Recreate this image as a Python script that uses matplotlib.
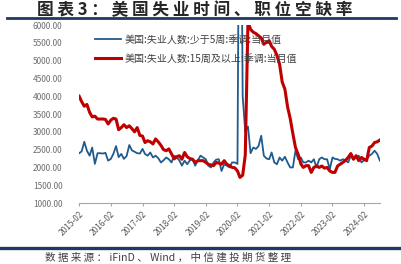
import matplotlib
matplotlib.use('Agg')
import matplotlib.pyplot as plt
import matplotlib.dates as mdates
import pandas as pd

plt.rcParams['font.family'] = ['Noto Sans CJK SC', 'DejaVu Sans']

# monthly, 2015-02 .. 2024-08 (thousands of persons)
months = pd.date_range('2015-02-01', '2024-08-01', freq='MS')

short_term = [  # less than 5 weeks
    2400, 2450, 2720, 2470, 2330, 2560, 2100, 2400, 2400, 2390,
    2410, 2190, 2240, 2380, 2600, 2290, 2380, 2240, 2320, 2630,
    2480, 2440, 2400, 2390, 2520, 2380, 2330, 2420, 2280, 2330,
    2260, 2140, 2200, 2280, 2230, 2140, 2330, 2280, 2200, 2050,
    2190, 2090, 2200, 2230, 2050, 2200, 2330, 2280, 2230, 2050,
    2000, 2140, 2220, 2230, 1900, 2090, 2050, 2000, 2140, 2140,
    2100, 14500, 4000, 3000, 3150, 2400, 2560, 2520, 2600, 2890,
    2330, 2250, 2230, 2420, 2140, 2090, 2280, 2190, 2300, 2140,
    2000, 2000, 2470, 2230, 2280, 2140, 2140, 2190, 2140, 2230,
    2000, 2230, 2280, 2230, 2230, 1950, 2280, 2240, 2230, 2190,
    2230, 2200, 2140, 2330, 2230, 2280, 2330, 2140, 2200, 2230,
    2330, 2380, 2470, 2380, 2190,
]

long_term = [  # 15 weeks and over
    4000, 3850, 3720, 3770, 3550, 3420, 3440, 3360, 3360, 3360,
    3350, 3220, 3330, 3380, 3360, 3060, 3120, 3200, 3120, 3170,
    3090, 3000, 3120, 2900, 2880, 2700, 2750, 2720, 2660, 2800,
    2720, 2620, 2500, 2470, 2520, 2380, 2240, 2300, 2330, 2230,
    2420, 2300, 2250, 2230, 2140, 2190, 2190, 2190, 2140, 2090,
    2070, 2050, 2140, 2120, 2090, 2190, 2090, 2050, 2000, 1990,
    1900, 1720, 1780, 2350, 6100, 5880, 5800, 5760, 5700, 5640,
    5460, 5520, 5560, 5400, 5320, 5150, 4900, 4400, 4200, 3700,
    3380, 2950, 2560, 2370, 2100, 2000, 2050, 2050, 1860, 2000,
    2040, 2000, 2040, 1980, 2000, 1900, 1860, 1860, 2040, 2090,
    2140, 2200, 2280, 2390, 2230, 2330, 2190, 2280, 2230, 2190,
    2560, 2600, 2700, 2720, 2770,
]

labels = ['美国:失业人数:少于5周:季调:当月值',
          '美国:失业人数:15周及以上:季调:当月值']
yticks = [1000, 1500, 2000, 2500, 3000, 3500, 4000, 4500, 5000, 5500, 6000]

fig = plt.figure(figsize=(4.02, 2.64), dpi=100)
ax = fig.add_axes([0.197, 0.231, 0.748, 0.674])

ax.plot(months, short_term, color='#1f5b8e', linewidth=1.3, label=labels[0])
ax.plot(months, long_term, color='#c00000', linewidth=2.2, label=labels[1])

ax.set_ylim(1000, 6000)
ax.set_xlim(months[0], months[-1])
ax.set_yticks(yticks)
ax.set_yticklabels(['%d.00' % v for v in yticks])

ticks = pd.date_range('2015-02-01', '2024-02-01', freq='12MS')
ax.set_xticks(ticks)
ax.xaxis.set_major_formatter(mdates.DateFormatter('%Y-%m'))
plt.setp(ax.get_xticklabels(), rotation=45, ha='right', rotation_mode='anchor')

for s in ['top', 'right', 'left']:
    ax.spines[s].set_visible(False)
ax.spines['bottom'].set_color('#a6a6a6')
ax.tick_params(axis='y', length=0, labelsize=6, labelcolor='#6e6e6e', pad=12)
ax.tick_params(axis='x', length=2.5, color='#a6a6a6', labelsize=6,
               labelcolor='#595959', pad=2)

ax.legend(loc='upper left', bbox_to_anchor=(0.04, 0.97), frameon=False,
          fontsize=7.2, labelcolor='#404040', handlelength=2.6,
          handletextpad=0.3, labelspacing=0.9, borderaxespad=0)

# title, rules and source note (letter-spaced like the original)
title = ' '.join('图表3：美国失业时间、职位空缺率')
fig.text(0.093, 0.962, title, fontsize=12, fontweight='bold',
         color='#262626', va='center', ha='left')
fig.add_artist(plt.Line2D([0.018, 0.985], [0.933, 0.933], color='#1f3864',
                          linewidth=2))
fig.add_artist(plt.Line2D([0.0, 1.0], [0.06, 0.06], color='#1f3864',
                          linewidth=2.4))
source = '数 据 来 源 ： iFinD 、 Wind ， 中 信 建 投 期 货 整 理'
fig.text(0.112, 0.026, source, fontsize=7.6, color='#404040',
         va='center', ha='left', style='italic')

fig.savefig('out.png', dpi=100)
